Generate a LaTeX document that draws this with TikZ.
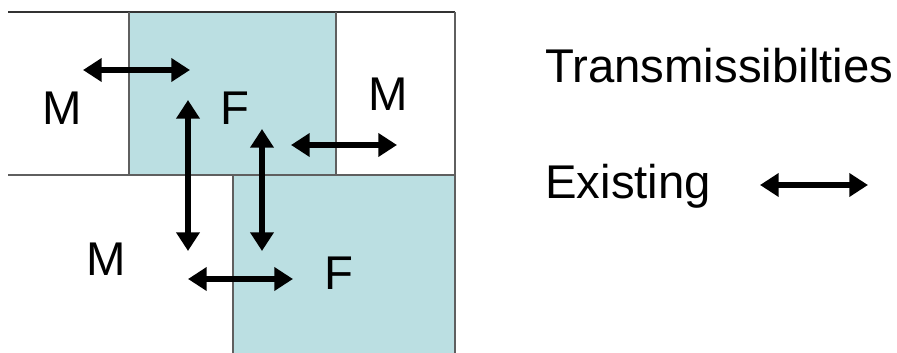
\documentclass[tikz,border=0pt]{standalone}
\usepackage{fontspec}
\setmainfont{Liberation Sans}
\usetikzlibrary{arrows.meta}
\definecolor{fracfill}{RGB}{187,223,226}
\definecolor{gridgray}{RGB}{95,95,95}
\tikzset{
  trans/.style={line width=4.2pt,{Triangle[length=14pt,width=17pt]}-{Triangle[length=14pt,width=17pt]}},
  lbl/.style={font=\fontsize{35.5}{40}\selectfont,inner sep=0pt,anchor=base},
}
\begin{document}
\begin{tikzpicture}[x=0.75pt,y=0.75pt,yscale=-1,xscale=1]
\useasboundingbox (0,0) rectangle (897,353);

%Fracture blocks
\fill[fracfill] (129,12) rectangle (336,175);
\fill[fracfill] (233,175) rectangle (455,353);

%Grid lines
\draw[black!80,line width=1.2pt] (8,12) -- (455,12);
\draw[gridgray,line width=1.2pt] (455,12) -- (455,353);
\draw[gridgray,line width=1.2pt] (8,175) -- (455,175);
\draw[gridgray,line width=1.2pt] (129,12) -- (129,175);
\draw[gridgray,line width=1.2pt] (336,12) -- (336,175);
\draw[gridgray,line width=1.2pt] (233,175) -- (233,353);

%Cell labels
\node[lbl] (mtl) at (62,125) {M};
\node[lbl] (ftop) at (235,125) {F};
\node[lbl] (mtr) at (388,111) {M};
\node[lbl] (mbl) at (106,275) {M};
\node[lbl] (fbot) at (339,289) {F};

%Transmissibility end points
\coordinate (t1a) at (83,70);
\coordinate (t1b) at (190,70);
\coordinate (t2a) at (188,100);
\coordinate (t2b) at (188,251);
\coordinate (t3a) at (262,129);
\coordinate (t3b) at (262,251);
\coordinate (t4a) at (291,145);
\coordinate (t4b) at (397,145);
\coordinate (t5a) at (188,279);
\coordinate (t5b) at (293,279);

\draw[trans] (t1a) -- (t1b);
\draw[trans] (t2a) -- (t2b);
\draw[trans] (t3a) -- (t3b);
\draw[trans] (t4a) -- (t4b);
\draw[trans] (t5a) -- (t5b);

%Legend
\node[lbl,anchor=base west] (title) at (545,83) {Transmissibilties};
\node[lbl,anchor=base west] (exist) at (545,198) {Existing};
\coordinate (lega) at (760,185);
\coordinate (legb) at (868,185);
\draw[trans] (lega) -- (legb);

\end{tikzpicture}
\end{document}
